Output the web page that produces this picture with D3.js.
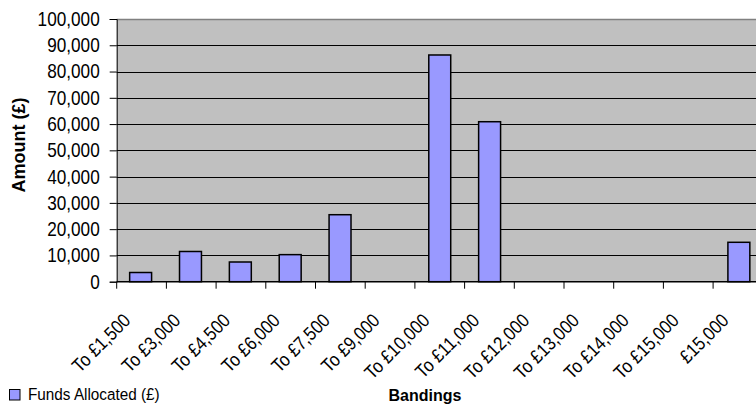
<!DOCTYPE html>
<html>
<head>
<meta charset="utf-8">
<script src="https://cdn.jsdelivr.net/npm/d3@7"></script>
<style>
  body { margin: 0; background: #fff; }
  text { font-family: "Liberation Sans", Arial, sans-serif; fill: #000; }
</style>
</head>
<body>
<div id="chart"></div>
<script>
var bandings = ["To £1,500", "To £3,000", "To £4,500", "To £6,000", "To £7,500", "To £9,000",
    "To £10,000", "To £11,000", "To £12,000", "To £13,000", "To £14,000", "To £15,000", "£15,000"];
var funds = [3500, 11500, 7500, 10300, 25500, 0, 86300, 60900, 0, 0, 0, 0, 15000];
var yTicks = [0, 10000, 20000, 30000, 40000, 50000, 60000, 70000, 80000, 90000, 100000];

// narrow look, since Arial Narrow is not around
var narrow = 0.86;

function barChart() {
    var w = 756;
    var h = 417;
    var left = 116.7, top = 19, bottom = 281.7;
    var bandW = 49.7;
    var right = left + bandW * bandings.length;

    var svg = d3.select("#chart")
            .append("svg")
            .attr("width", w)
            .attr("height", h);

    var x = d3.scaleBand()
        .domain(bandings)
        .range([left, right])
        .paddingInner(0.56)
        .paddingOuter(0.26);

    var y = d3.scaleLinear()
        .domain([0, 100000])
        .range([bottom, top]);

    // plot area
    svg.append("rect")
        .attr("x", left)
        .attr("y", top)
        .attr("width", right - left)
        .attr("height", bottom - top)
        .attr("fill", "#c0c0c0");

    svg.append("line")
        .attr("x1", left).attr("x2", right)
        .attr("y1", top + 0.5).attr("y2", top + 0.5)
        .attr("stroke", "#808080")
        .attr("stroke-width", 1.5);

    // gridlines
    svg.selectAll("line.grid")
        .data(yTicks.slice(1, -1))
        .enter()
        .append("line")
        .attr("class", "grid")
        .attr("x1", left).attr("x2", right)
        .attr("y1", function(d) { return Math.round(y(d)) + 0.5; })
        .attr("y2", function(d) { return Math.round(y(d)) + 0.5; })
        .attr("stroke", "#000")
        .attr("stroke-width", 1);

    // bars
    svg.selectAll("rect.bar")
        .data(funds)
        .enter()
        .append("rect")
        .attr("class", "bar")
        .attr("x", function(d, i) { return x(bandings[i]); })
        .attr("y", function(d) { return y(d); })
        .attr("width", x.bandwidth())
        .attr("height", function(d) { return bottom - y(d); })
        .attr("fill", "#9999ff")
        .attr("stroke", "#000")
        .attr("stroke-width", function(d) { return d > 0 ? 1.5 : 0; });

    // y axis
    var yAxis = d3.axisLeft(y)
        .tickValues(yTicks)
        .tickSize(7)
        .tickPadding(10)
        .tickFormat(d3.format(","));

    var gy = svg.append("g")
        .attr("transform", "translate(" + left + ",0)")
        .call(yAxis);
    gy.selectAll("text")
        .attr("x", -17 / narrow)
        .attr("transform", "scale(" + narrow + ",1)")
        .style("font-size", "20px");
    gy.selectAll("line, path").attr("stroke", "#000");

    // x axis
    var edges = d3.range(bandings.length + 1).map(function(i) { return left + i * bandW; });
    svg.append("line")
        .attr("x1", left).attr("x2", right)
        .attr("y1", bottom).attr("y2", bottom)
        .attr("stroke", "#000").attr("stroke-width", 1.5);
    svg.selectAll("line.xtick")
        .data(edges)
        .enter()
        .append("line")
        .attr("class", "xtick")
        .attr("x1", function(d) { return d; })
        .attr("x2", function(d) { return d; })
        .attr("y1", bottom).attr("y2", bottom + 7)
        .attr("stroke", "#000");

    svg.selectAll("text.xlab")
        .data(bandings)
        .enter()
        .append("text")
        .attr("class", "xlab")
        .attr("transform", function(d) {
            return "translate(" + (x(d) + x.bandwidth() / 2 - 9) + "," + (bottom + 40) + ") rotate(-45) scale(0.88,1)";
        })
        .attr("text-anchor", "end")
        .style("font-size", "19px")
        .text(function(d) { return d; });

    // titles
    svg.append("text")
        .attr("transform", "translate(25,145) rotate(-90)")
        .attr("text-anchor", "middle")
        .style("font-weight", "bold")
        .style("font-size", "18px")
        .text("Amount (£)");

    svg.append("text")
        .attr("x", 425)
        .attr("y", 401)
        .attr("text-anchor", "middle")
        .style("font-weight", "bold")
        .style("font-size", "16px")
        .text("Bandings");

    // legend
    svg.append("rect")
        .attr("x", 9.5).attr("y", 389.5)
        .attr("width", 10.5).attr("height", 10.5)
        .attr("fill", "#9999ff")
        .attr("stroke", "#000")
        .attr("stroke-width", 1);
    svg.append("text")
        .attr("transform", "translate(28,400) scale(0.9,1)")
        .style("font-size", "17px")
        .text("Funds Allocated (£)");
}

window.onload = barChart;
</script>
</body>
</html>
